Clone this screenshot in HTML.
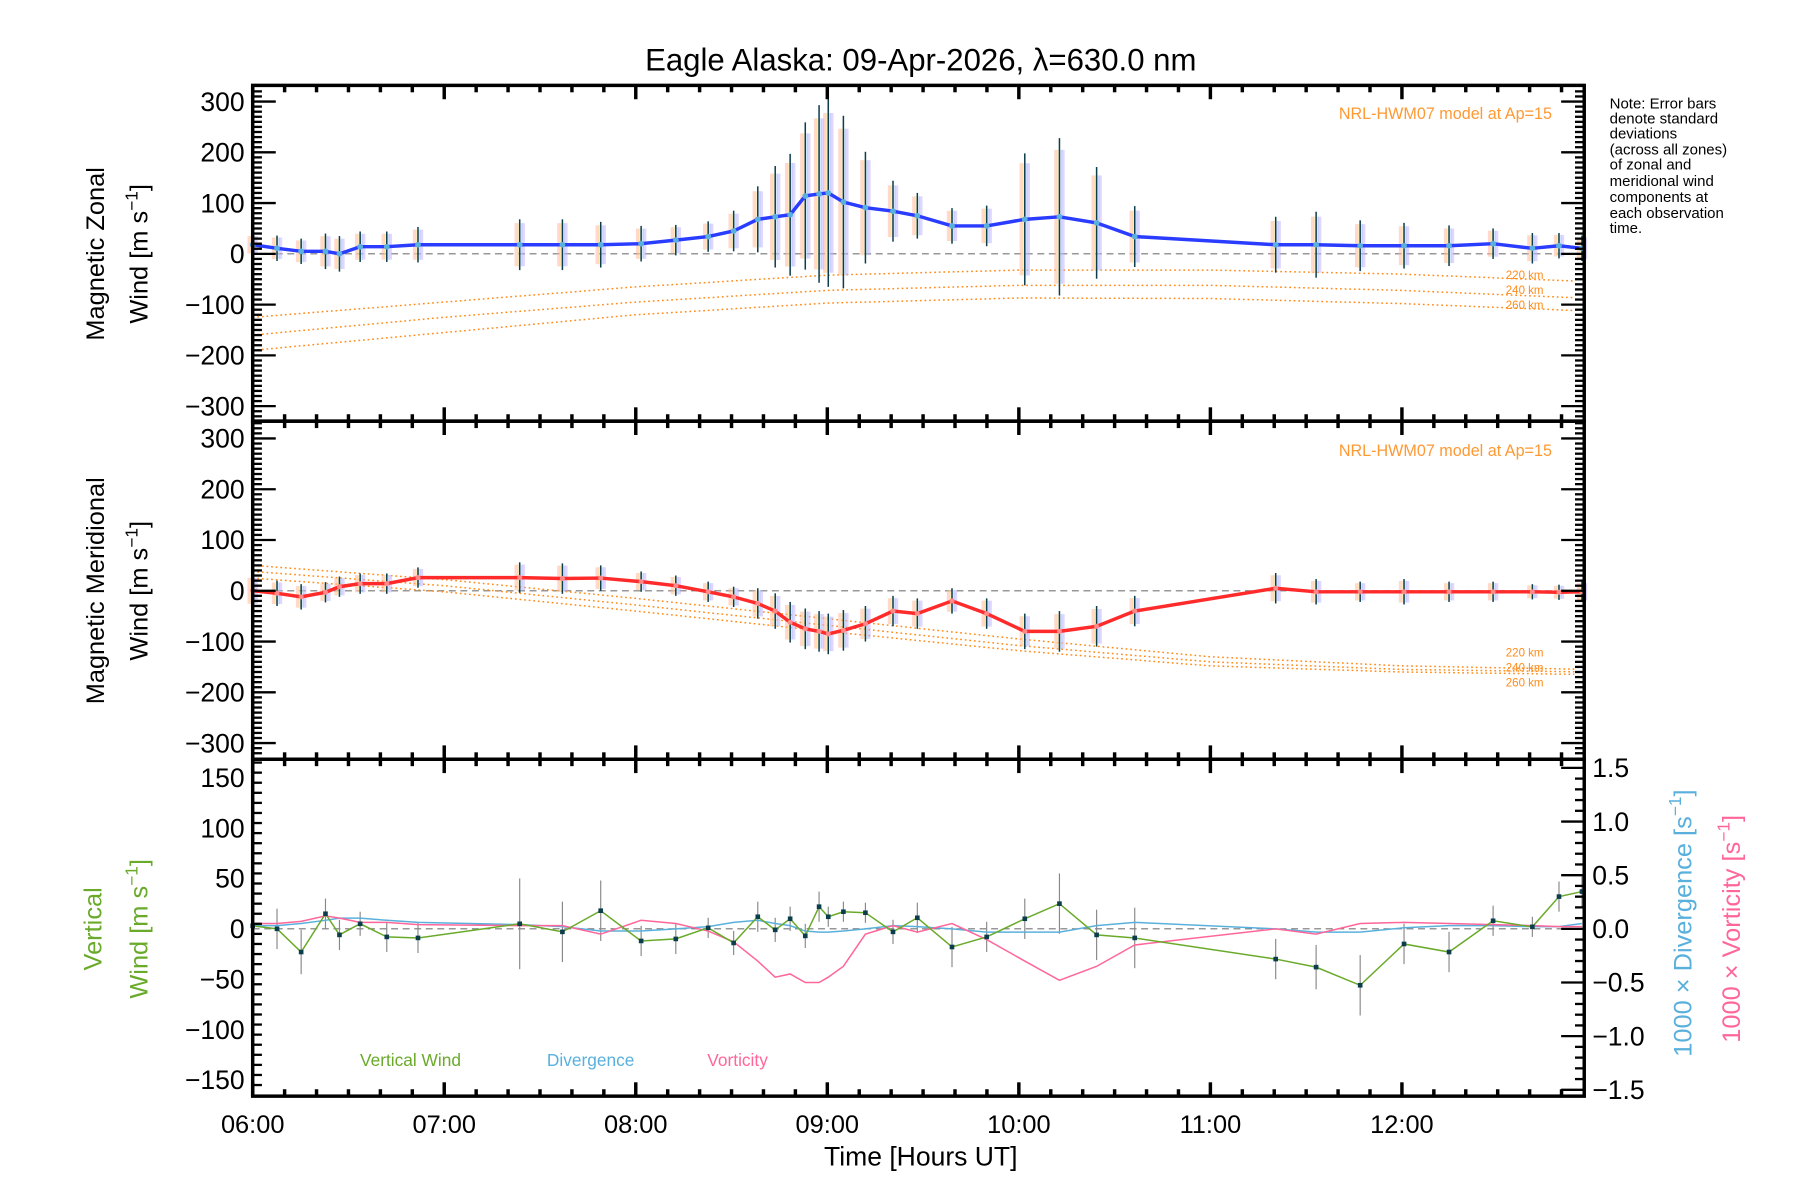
<!DOCTYPE html>
<html><head><meta charset="utf-8"><style>
html,body{margin:0;padding:0;background:#fff}
svg{display:block}
text{font-family:"Liberation Sans",sans-serif}
</style></head><body>
<svg id="chart" width="1800" height="1200" viewBox="0 0 1560 1040" xmlns="http://www.w3.org/2000/svg">
<text x="798" y="61" text-anchor="middle" font-size="27">Eagle Alaska: 09-Apr-2026, λ=630.0 nm</text>
<g font-size="13" fill="#000">
<text x="1395" y="94">Note: Error bars</text><text x="1395" y="107">denote standard</text><text x="1395" y="120">deviations</text><text x="1395" y="134">(across all zones)</text><text x="1395" y="147">of zonal and</text><text x="1395" y="161">meridional wind</text><text x="1395" y="175">components at</text><text x="1395" y="189">each observation</text><text x="1395" y="202">time.</text>
</g>
<text x="798" y="1010" text-anchor="middle" font-size="23">Time [Hours UT]</text>
<text transform="translate(90,220) rotate(-90)" text-anchor="middle" font-size="22">Magnetic Zonal</text>
<text transform="translate(128,220) rotate(-90)" text-anchor="middle" font-size="22">Wind [m s<tspan dy="-9" font-size="15">−1</tspan><tspan dy="9">]</tspan></text>
<text transform="translate(90,512) rotate(-90)" text-anchor="middle" font-size="22">Magnetic Meridional</text>
<text transform="translate(128,512) rotate(-90)" text-anchor="middle" font-size="22">Wind [m s<tspan dy="-9" font-size="15">−1</tspan><tspan dy="9">]</tspan></text>
<text transform="translate(88,805) rotate(-90)" text-anchor="middle" font-size="22" fill="#6aaa2a">Vertical</text>
<text transform="translate(128,805) rotate(-90)" text-anchor="middle" font-size="22" fill="#6aaa2a">Wind [m s<tspan dy="-9" font-size="15">−1</tspan><tspan dy="9">]</tspan></text>
<text transform="translate(1466,800) rotate(-90)" text-anchor="middle" font-size="22" fill="#5ab0dc">1000 × Divergence [s<tspan dy="-9" font-size="15">−1</tspan><tspan dy="9">]</tspan></text>
<text transform="translate(1508,805) rotate(-90)" text-anchor="middle" font-size="22" fill="#ff6699">1000 × Vorticity [s<tspan dy="-9" font-size="15">−1</tspan><tspan dy="9">]</tspan></text>
<text x="312" y="924" font-size="15" fill="#6aaa2a">Vertical Wind</text>
<text x="474" y="924" font-size="15" fill="#5ab0dc">Divergence</text>
<text x="613" y="924" font-size="15" fill="#ff6699">Vorticity</text>
<text x="1345" y="103" text-anchor="end" font-size="14" fill="#ff9933">NRL-HWM07 model at Ap=15</text>
<text x="1345" y="395" text-anchor="end" font-size="14" fill="#ff9933">NRL-HWM07 model at Ap=15</text>
<g id="plot"></g>
</svg>
<script>
const times=[6.0,6.127,6.253,6.38,6.453,6.561,6.70,6.863,7.394,7.617,7.817,8.028,8.209,8.378,8.511,8.637,8.728,8.806,8.885,8.957,9.005,9.084,9.199,9.343,9.470,9.651,9.832,10.031,10.212,10.406,10.605,11.341,11.552,11.782,12.011,12.246,12.476,12.681,12.82,12.94];
const zonal=[18,11,5,5,0,14,14,18,18,18,18,20,27,34,45,68,73,77,114,118,120,102,91,84,75,55,55,68,73,61,34,18,18,16,16,16,20,11,16,11];
const zonalErr=[20,25,25,35,35,30,30,35,50,50,45,35,30,30,40,65,100,120,145,175,185,170,110,60,45,35,40,130,155,110,60,55,65,50,45,40,30,30,25,25];
const meridional=[0,-5,-12,-3,8,14,14,26,26,24,25,18,10,-2,-12,-25,-40,-62,-75,-80,-85,-78,-65,-40,-45,-20,-45,-80,-80,-70,-40,5,-2,-2,-2,-2,-2,-2,-3,-2];
const meridionalErr=[30,25,25,20,20,20,20,20,30,30,25,20,20,20,20,30,35,40,40,40,40,40,35,30,30,25,30,35,40,40,30,30,25,20,25,20,20,15,15,20];
const vertical=[3,0,-23,15,-6,5,-8,-9,5,-3,18,-12,-10,1,-14,12,-1,10,-7,22,12,17,16,-3,11,-18,-8,10,25,-6,-9,-30,-38,-56,-15,-23,8,2,32,37];
const verticalErr=[20,20,22,15,15,12,15,15,45,30,30,15,15,10,12,15,12,12,12,15,10,10,10,12,15,20,15,20,30,25,30,20,22,30,20,20,15,10,15,15];
const divergence=[0.03,0.03,0.05,0.08,0.1,0.1,0.08,0.06,0.04,0.02,-0.02,-0.02,0.0,0.02,0.06,0.08,0.05,0.03,-0.02,-0.03,-0.03,-0.02,0.0,0.03,0.02,0.0,-0.03,-0.03,-0.03,0.03,0.06,0.0,-0.03,-0.03,0.01,0.03,0.03,0.02,0.02,0.05];
const vorticity=[0.05,0.05,0.07,0.12,0.1,0.06,0.06,0.04,0.03,0.03,-0.05,0.08,0.05,-0.02,-0.12,-0.3,-0.45,-0.42,-0.5,-0.5,-0.45,-0.35,-0.05,0.03,-0.03,0.05,-0.1,-0.3,-0.48,-0.35,-0.15,0.0,-0.05,0.05,0.06,0.05,0.04,0.03,0.02,0.02];
const modelHours=[6,7,8,9,10,11,12,13];
const zonalModel220=[-125,-95,-65,-42,-32,-32,-40,-55];
const zonalModel240=[-160,-125,-95,-72,-62,-62,-72,-88];
const zonalModel260=[-190,-155,-120,-97,-87,-88,-98,-113];
const merModel220=[50,22,-15,-55,-95,-130,-148,-155];
const merModel240=[38,10,-28,-68,-108,-140,-155,-160];
const merModel260=[25,-2,-40,-80,-118,-148,-160,-165];
const xTickLabels=["06:00","07:00","08:00","09:00","10:00","11:00","12:00"];
const windTicks=[-300,-200,-100,0,100,200,300];
const vertTicks=[-150,-100,-50,0,50,100,150];
const rightTicks=["-1.5","-1.0","-0.5","0.0","0.5","1.0","1.5"];

const NS="http://www.w3.org/2000/svg";
const root=document.getElementById('plot');
const L=219,R=1373,PXH=166,TMAX=6+(R-L)/PXH;
function x(t){return L+(t-6)*PXH;}
function mk(tag,attrs,parent){const e=document.createElementNS(NS,tag);for(const k in attrs)e.setAttribute(k,attrs[k]);(parent||root).appendChild(e);return e;}
const panels=[{top:74,bot:365,zero:220,k:0.44},{top:365,bot:658,zero:512,k:0.44},{top:658,bot:950,zero:805,k:0.8733}];
function yP(p,v){return panels[p].zero-v*panels[p].k;}
function yR(v){return 805-v*93;}
function pathFrom(xs,ys){return xs.map((t,i)=>(i?'L':'M')+x(t).toFixed(1)+' '+ys[i].toFixed(1)).join(' ');}
function line(d,stroke,w,name,dash){const e=mk('path',{d:d,fill:'none',stroke:stroke,'stroke-width':w});if(dash)e.setAttribute('stroke-dasharray',dash);
return e;}

panels.forEach((p,i)=>{const e=mk('line',{x1:L,x2:R,y1:p.zero,y2:p.zero,stroke:'#777','stroke-width':1,'stroke-dasharray':'6,4'});

});

[[zonalModel220,zonalModel240,zonalModel260,0],[merModel220,merModel240,merModel260,1]].forEach(m=>{
 [m[0],m[1],m[2]].forEach((arr,j)=>{
  const ys=[];const xs=[];
  for(let s=0;s<=70;s++){const t=6+s*0.1;if(t>TMAX+0.001)break;let i=Math.min(6,Math.floor(t-6));const f=t-6-i;xs.push(t);ys.push(yP(m[3],arr[i]+(arr[i+1]-arr[i])*f));}
  line(pathFrom(xs,ys),'#ff8c1a',1.3,'model-curve-'+(220+20*j)+'km','1.5,2.5');
 });
});
[['220 km',242],['240 km',255],['260 km',268],['220 km',569],['240 km',582],['260 km',595]].forEach(a=>{
 const e=mk('text',{x:1305,y:a[1],'font-size':10,fill:'#ff8c1a'});e.textContent=a[0];
 
 
});

const zoneCols=['#ffb3a0','#ffe08a','#b0d8ff','#c0b0ff'];
function errBars(p,vals,errs,col,name){
 times.forEach((t,i)=>{
  const X=x(t);
  if(p<2){zoneCols.forEach((c,j)=>{const off=(j-1.5)*2;const r=mk('rect',{x:X+off-1.5,y:yP(p,vals[i]+errs[i]*0.85),width:3,height:errs[i]*1.7*panels[p].k,fill:c,opacity:0.5});
  
  });}
  const e=mk('line',{x1:X,x2:X,y1:yP(p,vals[i]+errs[i]),y2:yP(p,vals[i]-errs[i]),stroke:col,'stroke-width':p<2?1.3:1});
  
  
 });
}
errBars(0,zonal,zonalErr,'#0b3d4d','zonal-error-bar');
errBars(1,meridional,meridionalErr,'#0b3d4d','meridional-error-bar');
errBars(2,vertical,verticalErr,'#888','vertical-error-bar');

line(pathFrom(times,zonal.map(v=>yP(0,v))),'#2a3cff',3,'zonal-wind-line');
line(pathFrom(times,meridional.map(v=>yP(1,v))),'#ff2a2a',3,'meridional-wind-line');
times.forEach((t,i)=>{const c=mk('circle',{cx:x(t),cy:yP(0,zonal[i]),r:2.5,fill:'#5ab0dc'});

const c2=mk('circle',{cx:x(t),cy:yP(1,meridional[i]),r:2.2,fill:'#ff8888'});
});

line(pathFrom(times,divergence.map(yR)),'#5ab0dc',1.3,'divergence-line');
line(pathFrom(times,vorticity.map(yR)),'#ff6699',1.3,'vorticity-line');
line(pathFrom(times,vertical.map(v=>yP(2,v))),'#6aaa2a',1.3,'vertical-wind-line');
times.forEach((t,i)=>{const r=mk('rect',{x:x(t)-2,y:yP(2,vertical[i])-2,width:4,height:4,fill:'#0b3d4d'});

});

panels.forEach((p,pi)=>{
 const f=mk('rect',{x:L,y:p.top,width:R-L,height:p.bot-p.top,fill:'none',stroke:'#000','stroke-width':3});
 
 
 for(let m=0;m<=42;m++){const X=L+m*PXH/6;if(X>R+0.5)break;const len=m%6==0?12:6;
  mk('line',{x1:X,x2:X,y1:p.bot,y2:p.bot-len,stroke:'#000','stroke-width':3});
  mk('line',{x1:X,x2:X,y1:p.top,y2:p.top+len,stroke:'#000','stroke-width':3});}
 if(pi<2){
  for(let v=-330;v<=330;v+=10){const Y=yP(pi,v);if(Y<p.top+1||Y>p.bot-1)continue;const len=v%100==0?20:8;
   mk('line',{x1:L,x2:L+len,y1:Y,y2:Y,stroke:'#000','stroke-width':2});mk('line',{x1:R,x2:R-len,y1:Y,y2:Y,stroke:'#000','stroke-width':2});}
  windTicks.forEach(v=>{const t=mk('text',{x:212,y:yP(pi,v)+8,'text-anchor':'end','font-size':23});t.textContent=(v<0?'−':'')+Math.abs(v);
  
  });
 } else {
  for(let v=-165;v<=165;v+=10){const Y=yP(2,v);if(Y<p.top+1||Y>p.bot-1)continue;const len=v%50==0?20:8;mk('line',{x1:L,x2:L+len,y1:Y,y2:Y,stroke:'#000','stroke-width':2});}
  for(let v=-15;v<=15;v++){const Y=yR(v/10);const len=v%5==0?20:8;mk('line',{x1:R,x2:R-len,y1:Y,y2:Y,stroke:'#000','stroke-width':2});}
  vertTicks.forEach(v=>{const t=mk('text',{x:212,y:yP(2,v)+8,'text-anchor':'end','font-size':23});t.textContent=(v<0?'−':'')+Math.abs(v);
  
  });
  rightTicks.forEach((s,i)=>{const t=mk('text',{x:1380,y:yR(-1.5+i*0.5)+8,'font-size':23});t.textContent=s.replace('-','−');
  
  });
 }
});
xTickLabels.forEach((s,i)=>{const t=mk('text',{x:x(6+i),y:982,'text-anchor':'middle','font-size':22});t.textContent=s;

});
</script>
</body></html>
